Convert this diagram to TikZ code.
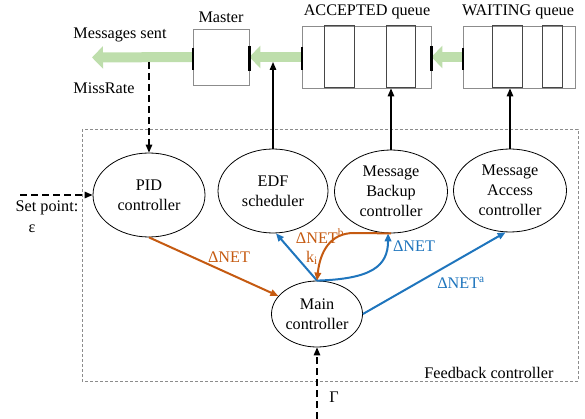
\documentclass[tikz,border=0pt]{standalone}
\usepackage{fontspec}
\setmainfont{Liberation Serif}
\usetikzlibrary{shapes.geometric,arrows.meta}
\definecolor{fbred}{RGB}{197,90,17}
\definecolor{fbblue}{RGB}{31,117,189}
\definecolor{flowgreen}{RGB}{190,222,172}
\definecolor{boxgray}{RGB}{140,140,140}
\definecolor{slotgray}{RGB}{70,70,70}
\begin{document}
\begin{tikzpicture}[x=1pt,y=-1pt,
  font=\fontsize{16.2}{20}\selectfont,
  ctrl/.style={ellipse,draw,line width=0.8pt,align=center,inner sep=0pt},
  queuebox/.style={draw=boxgray,line width=0.8pt,inner sep=0pt},
  slot/.style={draw=slotgray,line width=1pt},
  flow/.style={flowgreen,line width=10pt,-{Triangle[length=11pt,width=22pt]}},
  tip/.style={-{Triangle[length=8pt,width=6.5pt]}},
  blk/.style={tip,line width=1.4pt},
  dsh/.style={tip,line width=1.4pt,dash pattern=on 7pt off 4pt},
  redsig/.style={tip,fbred,line width=2pt},
  bluesig/.style={tip,fbblue,line width=2pt},
  bar/.style={line width=2pt}]
\useasboundingbox (0,0) rectangle (585,419);

% feedback controller frame
\draw[boxgray,line width=0.7pt,dash pattern=on 3pt off 2pt] (82,129) rectangle (578,381);
\node[anchor=east] (fblabel) at (557,373) {Feedback controller};

% master and the two queues
\node[queuebox,minimum width=56pt,minimum height=56pt] (ms) at (221,57) {};
\node[queuebox,minimum width=129pt,minimum height=62pt] (acc) at (366.5,57) {};
\node[queuebox,minimum width=112pt,minimum height=62pt] (wt) at (519,57) {};
\draw[slot] (324,26) rectangle (354,88);
\draw[slot] (386,26) rectangle (415,88);
\draw[slot] (492,26) rectangle (522,88);
\draw[slot] (542,26) rectangle (562,88);

\node (mslabel) at (221,17) {Master};
\node (acclabel) at (367,12) {ACCEPTED queue};
\node (wtlabel) at (518,12) {WAITING queue};

% message flow
\coordinate (sent) at (92,57.5);
\draw[flow] (ms.west) -- (sent);
\draw[flow] (acc.west) -- (ms.east);
\draw[flow] (wt.west) -- (acc.east);
\draw[line width=1.5pt] (193,48) -- (193,70);
\draw[bar,line width=3pt] (249,46) -- (249,71);
\draw[bar] (302,47) -- (302,70);
\draw[bar,line width=3pt] (431,46) -- (431,71);
\draw[bar] (463,48) -- (463,70);
\node (sentlabel) at (120,35) {Messages sent};

% controllers
\node[ctrl,minimum width=112pt,minimum height=84pt] (pid) at (149,195) {PID\\controller};
\node[ctrl,minimum width=110pt,minimum height=84pt] (ed) at (273,191) {EDF\\scheduler};
\node[ctrl,minimum width=113pt,minimum height=83pt] (bk) at (391,191.5) {Message\\Backup\\controller};
\node[ctrl,minimum width=113pt,minimum height=83pt] (ac) at (510,190.5) {Message\\Access\\controller};
\node[ctrl,minimum width=91pt,minimum height=66pt] (mc) at (317,314) {Main\\controller};

% actuation towards the message path
\coordinate (edtap) at (273,62);
\draw[blk] (ed.north) -- (edtap);
\draw[blk] (bk.north) -- (bk.north |- acc.south);
\draw[blk] (ac.north) -- (ac.north |- wt.south);

% measured and reference inputs
\coordinate (misstap) at (149,62);
\draw[dsh] (misstap) -- (pid.north);
\node (misslabel) at (104,88) {MissRate};
\coordinate (setin) at (20,195);
\draw[dsh] (setin) -- (pid.west);
\node (setlabel) at (47,208) {Set point:};
\node (epslabel) at (32,229) {ε};
\coordinate (gammain) at (317,419);
\draw[dsh] (gammain) -- (mc.south);
\node (gammalabel) at (334,397) {Γ};

% control signals
\draw[redsig] (pid.south) -- (mc.155);
\node[text=fbred] (dnet1) at (229,257) {ΔNET};
\draw[bluesig] (mc.north) -- (ed.-86);
\draw[bluesig] (mc.north) .. controls (372,279) and (388,266) .. (bk.-94);
\draw[redsig] (bk.south) -- (354,233) .. controls (330,233) and (320,252) .. (mc.north);
\node[text=fbred] (dnetb) at (320,236) {ΔNET\textsuperscript{b}};
\node[text=fbred] (kilabel) at (312,258) {k\textsubscript{i}};
\node[text=fbblue] (dnet2) at (414,246) {ΔNET};
\draw[bluesig] (mc.east) -- (ac.-96);
\node[text=fbblue] (dneta) at (461,283) {ΔNET\textsuperscript{a}};
\end{tikzpicture}
\end{document}
